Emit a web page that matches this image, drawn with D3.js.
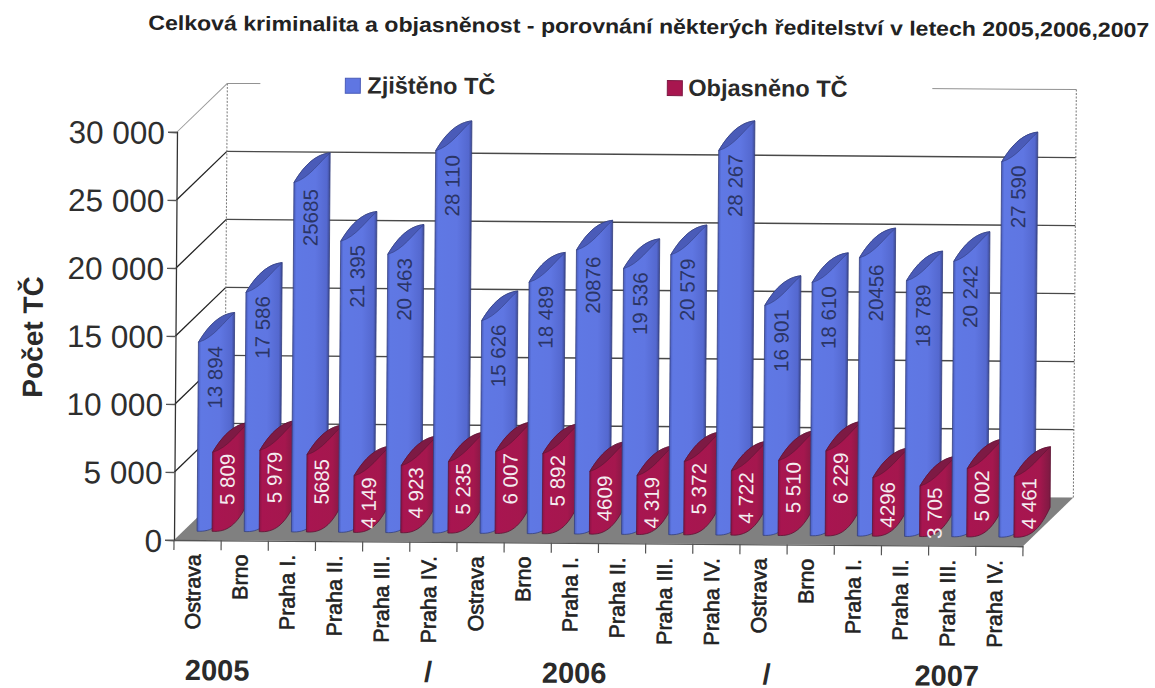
<!DOCTYPE html>
<html><head><meta charset="utf-8">
<script src="https://cdn.jsdelivr.net/npm/d3@7/dist/d3.min.js"></script>
<style>html,body{margin:0;padding:0;background:#fff;overflow:hidden}text{font-family:"Liberation Sans",Arial,sans-serif}</style>
</head><body><svg id="c" width="1155" height="688"></svg>
<script>
const titleText = "Celková kriminalita a objasněnost - porovnání některých ředitelství v letech 2005,2006,2007";
const yAxisTitle = "Počet TČ";
const seriesNames = ["Zjištěno TČ", "Objasněno TČ"];
const categories = ["Ostrava","Brno","Praha I.","Praha II.","Praha III.","Praha IV.","Ostrava","Brno","Praha I.","Praha II.","Praha III.","Praha IV.","Ostrava","Brno","Praha I.","Praha II.","Praha III.","Praha IV."];
const zjisteno = [13894,17586,25685,21395,20463,28110,15626,18489,20876,19536,20579,28267,16901,18610,20456,18789,20242,27590];
const objasneno = [5809,5979,5685,4149,4923,5235,6007,5892,4609,4319,5372,4722,5510,6229,4296,3705,5002,4461];
const zjistenoLabels = ["13 894","17 586","25685","21 395","20 463","28 110","15 626","18 489","20876","19 536","20 579","28 267","16 901","18 610","20456","18 789","20 242","27 590"];
const objasnenoLabels = ["5 809","5 979","5685","4 149","4 923","5 235","6 007","5 892","4609","4 319","5 372","4 722","5 510","6 229","4296","3 705","5 002","4 461"];
const yTicks = [0,5000,10000,15000,20000,25000,30000];
const yearMarks = [["2005",0.25],["/",5.32],["2006",7.82],["/",12.5],["2007",15.72]];

const svg = d3.select("#c");
const defs = svg.append("defs");
function grad(id, stops){
  const g = defs.append("linearGradient").attr("id",id).attr("x1",0).attr("x2",1).attr("y1",0).attr("y2",0);
  stops.forEach(s=>g.append("stop").attr("offset",s[0]).attr("stop-color",s[1]));
}
grad("blue",[[0,"#4a5dbc"],[0.08,"#5f78e4"],[0.6,"#5f76e2"],[0.92,"#5468cf"],[1,"#3d4a94"]]);
grad("red",[[0,"#8c1446"],[0.08,"#a81550"],[0.7,"#a5174e"],[1,"#7c1a42"]]);

const left=174,right=1023,y0=540,y30=132,dx=50,dy=-49;
const root = svg.append("g").attr("transform",`rotate(0.42 ${left} ${y0})`);
const x = d3.scaleBand().domain(d3.range(categories.length)).range([left,right]);
const y = d3.scaleLinear().domain([0,30000]).range([y0,y30]);
const fmt = d=> d===0 ? "0" : d3.format(",")(d).replace(/,/g," ");

// walls
const wall = root.append("g");
wall.selectAll("line.grid").data(yTicks.slice(1)).join("line")
  .attr("x1",left+dx).attr("x2",right+dx).attr("y1",d=>y(d)+dy).attr("y2",d=>y(d)+dy)
  .attr("stroke",d=>d===30000?"#777":"#2a2a2a").attr("stroke-width",d=>d===30000?1:1.4).attr("opacity",d=>d===30000?0.8:0.85);
wall.selectAll("line.diag").data(yTicks.slice(1)).join("line")
  .attr("x1",left).attr("x2",left+dx).attr("y1",d=>y(d)).attr("y2",d=>y(d)+dy)
  .attr("stroke",d=>d===30000?"#999":"#222").attr("stroke-width",d=>d===30000?1:1.3);
[left+dx,right+dx].forEach(vx=>wall.append("line").attr("x1",vx).attr("x2",vx).attr("y1",y(0)+dy).attr("y2",y(30000)+dy)
  .attr("stroke","#777").attr("stroke-dasharray","2 1.5"));
// legend backing hides the top wall line
root.append("rect").attr("x",257).attr("y",72).attr("width",672).attr("height",22).attr("fill","#fff");
// floor
root.append("polygon").attr("fill","#808080")
  .attr("points",[[left,y0],[right,y0],[right+dx,y0+dy],[left+dx,y0+dy]].join(" "));

// cylinders
const w=36,h=30,baseShift=-9;
const upper=(x0,t)=>`C${x0+w*0.3},${t-h*0.62} ${x0+w*0.62},${t-h*0.95} ${x0+w},${t-h}`;
const lowerBack=(x0,t)=>`C${x0+w*0.72},${t-h*0.72} ${x0+w*0.42},${t-h*0.14} ${x0},${t}`;
const lowerFwd=(x0,t)=>`C${x0+w*0.4},${t+1} ${x0+w*0.7},${t-h*0.2} ${x0+w},${t-h}`;
const marks = root.append("g");
categories.forEach((c,i)=>{
  [[zjisteno[i],23,"url(#blue)","#4a5bb8","#34407f",zjistenoLabels[i],"#2b3566",17,35],
   [objasneno[i],38,"url(#red)","#7d1a44","#5e1434",objasnenoLabels[i],"#f4ecef",15,27]].forEach(s=>{
    const x0=x(i)+s[1], t=y(s[0])+baseShift, b=y(0)+baseShift;
    const g=marks.append("g");
    g.append("path").attr("fill",s[2]).attr("stroke",s[4]).attr("stroke-width",0.8)
      .attr("d",`M${x0},${t}L${x0},${b}${lowerFwd(x0,b)}L${x0+w},${t-h}C${x0+w*0.62},${t-h*0.95} ${x0+w*0.3},${t-h*0.62} ${x0},${t}Z`);
    g.append("path").attr("fill",s[3]).attr("stroke",s[4]).attr("stroke-width",0.6)
      .attr("d",`M${x0},${t}${upper(x0,t)}${lowerBack(x0,t)}Z`);
    g.append("text").attr("transform",`translate(${x0+s[7]+7},${t+s[8]}) rotate(-90)`)
      .attr("text-anchor","middle").attr("font-size",20.5).attr("fill",s[6]).text(s[5]);
  });
});

// y axis
const yAx = root.append("g").attr("transform",`translate(${left},0)`)
  .call(d3.axisLeft(y).tickValues(yTicks).tickFormat(fmt).tickSize(9).tickPadding(3));
yAx.select(".domain").attr("stroke","#333").attr("stroke-width",1.3);
yAx.selectAll("line").attr("stroke","#555").attr("stroke-width",1.3);
yAx.selectAll("text").attr("font-size",31.5).attr("font-family","Liberation Sans").attr("fill","#2e2e2e").attr("dy","0.36em");

// x axis
const xAx = root.append("g").attr("transform",`translate(0,${y0})`)
  .call(d3.axisBottom(x).tickFormat(i=>categories[i]).tickSize(0));
xAx.select(".domain").attr("stroke","#555").attr("stroke-width",1.3);
xAx.selectAll("text").attr("font-size",21.5).attr("font-family","Liberation Sans").attr("fill","#222")
  .attr("stroke","#222").attr("stroke-width",0.6)
  .attr("text-anchor","end").attr("dy",null)
  .attr("transform",`translate(3,8) rotate(-90)`).attr("x",-6).attr("y",0);
root.append("g").selectAll("line").data(d3.range(categories.length+1)).join("line")
  .attr("x1",i=>left+i*x.step()).attr("x2",i=>left+i*x.step()).attr("y1",y0).attr("y2",y0+10)
  .attr("stroke","#555").attr("stroke-width",1.2);

// group labels
root.append("g").selectAll("text").data(yearMarks).join("text")
  .attr("x",d=>left+d[1]*x.step()).attr("y",680).attr("font-size",29).attr("font-weight","bold").attr("fill","#2a2a2a").text(d=>d[0]);

// titles
root.append("text").attr("x",144.5).attr("y",30).attr("font-size",20.5).attr("font-weight","bold").attr("fill","#222")
  .attr("textLength",1001).attr("lengthAdjust","spacingAndGlyphs").text(titleText);
root.append("text").attr("transform","translate(41,338) rotate(-90)").attr("text-anchor","middle")
  .attr("font-size",28).attr("font-weight","bold").attr("fill","#2a2a2a").text(yAxisTitle);

// legend
const lg = root.append("g");
[[342,seriesNames[0],"#5f76e2","#4a5bb8",364],[664,seriesNames[1],"#a8164f","#7d1a44",685]].forEach(d=>{
  lg.append("rect").attr("x",d[0]).attr("y",77).attr("width",15).attr("height",15).attr("fill",d[2]).attr("stroke",d[3]);
  lg.append("text").attr("x",d[4]).attr("y",92).attr("font-size",23.5).attr("font-weight","bold").attr("fill","#2a2a2a").text(d[1]);
});
</script></body></html>
